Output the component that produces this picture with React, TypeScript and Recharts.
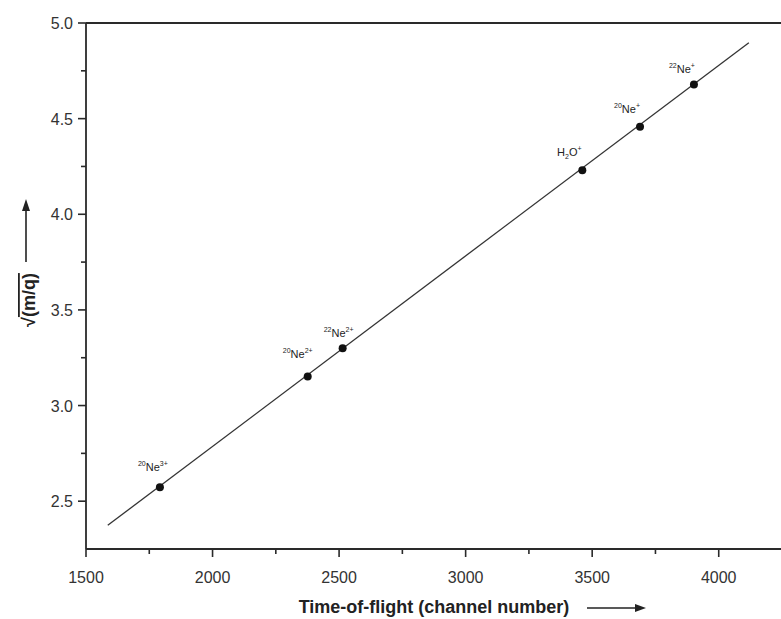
import { ScatterChart, Scatter, XAxis, YAxis } from 'recharts';

// calibration points: time-of-flight channel vs sqrt(m/q)
const tofChannel = [1792, 2376, 2514, 3461, 3689, 3902];
const sqrtMq = [2.573, 3.152, 3.3, 4.23, 4.458, 4.678];

type Part = [string, 'n' | 'sup' | 'sub'];
const ionLabels: Part[][] = [
  [['20', 'sup'], ['Ne', 'n'], ['3+', 'sup']],
  [['20', 'sup'], ['Ne', 'n'], ['2+', 'sup']],
  [['22', 'sup'], ['Ne', 'n'], ['2+', 'sup']],
  [['H', 'n'], ['2', 'sub'], ['O', 'n'], ['+', 'sup']],
  [['20', 'sup'], ['Ne', 'n'], ['+', 'sup']],
  [['22', 'sup'], ['Ne', 'n'], ['+', 'sup']],
];
// label nudges (px) relative to each point
const labelNudge = [[-7, -16], [-10, -18], [-4, -11], [-13, -14], [-13, -14], [-12, -12]];

// linear fit end points
const fitX = [1586, 4119];
const fitY = [2.374, 4.897];

const xTicks = [1500, 1750, 2000, 2250, 2500, 2750, 3000, 3250, 3500, 3750, 4000, 4250];
const xMajor = [1500, 2000, 2500, 3000, 3500, 4000];
const yTicks = [2.5, 2.75, 3.0, 3.25, 3.5, 3.75, 4.0, 4.25, 4.5, 4.75, 5.0];
const yMajor = [2.5, 3.0, 3.5, 4.0, 4.5, 5.0];

const points = tofChannel.map((x, i) => ({ x, y: sqrtMq[i], idx: i }));
const fitLine = fitX.map((x, i) => ({ x, y: fitY[i] }));

const INK = '#2a2a2a';
const FONT = '"Liberation Sans", Arial, sans-serif';

const isMajor = (list: number[], v: number) => list.some((m) => Math.abs(m - v) < 1e-6);

const BottomTick = ({ x, y, payload }: any) => {
  const major = isMajor(xMajor, payload.value);
  return (
    <g>
      <line x1={x} x2={x} y1={y} y2={y + (major ? 8 : 5)} stroke={INK} strokeWidth={1.6} />
      {major && (
        <text x={x} y={y + 34} textAnchor="middle" fontSize={16} fill="#333" fontFamily={FONT}>
          {payload.value}
        </text>
      )}
    </g>
  );
};

const TopTick = ({ x, y, payload }: any) => {
  const major = isMajor(xMajor, payload.value);
  return <line x1={x} x2={x} y1={y} y2={y + (major ? 9 : 5)} stroke={INK} strokeWidth={1.6} />;
};

const LeftTick = ({ x, y, payload }: any) => {
  const major = isMajor(yMajor, payload.value);
  return (
    <g>
      <line x1={x - (major ? 8 : 5)} x2={x} y1={y} y2={y} stroke={INK} strokeWidth={1.6} />
      {major && (
        <text x={x - 13} y={y + 6} textAnchor="end" fontSize={16} fill="#333" fontFamily={FONT}>
          {payload.value.toFixed(1)}
        </text>
      )}
    </g>
  );
};

const RightTick = ({ x, y, payload }: any) => {
  const major = isMajor(yMajor, payload.value);
  return <line x1={x - (major ? 7 : 4)} x2={x} y1={y} y2={y} stroke={INK} strokeWidth={1.6} />;
};

const IonLabel = ({ x, y, parts }: { x: number; y: number; parts: Part[] }) => {
  let shift = 0;
  return (
    <text x={x} y={y} textAnchor="middle" fontSize={11} fill="#222" fontFamily={FONT}>
      {parts.map(([t, kind], k) => {
        const target = kind === 'sup' ? -5 : kind === 'sub' ? 3 : 0;
        const dy = target - shift;
        shift = target;
        return (
          <tspan key={k} dy={dy} fontSize={kind === 'n' ? 11 : 7}>
            {t}
          </tspan>
        );
      })}
    </text>
  );
};

const PointShape = (props: any) => {
  const { cx, cy, payload } = props;
  const i = payload.idx;
  return (
    <g>
      <circle cx={cx} cy={cy} r={4} fill="#111" />
      <IonLabel x={cx + labelNudge[i][0]} y={cy + labelNudge[i][1]} parts={ionLabels[i]} />
    </g>
  );
};

const XLabel = ({ viewBox }: any) => {
  const cx = viewBox.x + viewBox.width / 2;
  const by = viewBox.y + 64;
  return (
    <g>
      <text x={cx} y={by} textAnchor="middle" fontSize={18} fontWeight="bold" fill="#222" fontFamily={FONT}>
        Time-of-flight (channel number)
      </text>
      <line x1={cx + 153} x2={cx + 204} y1={by - 5} y2={by - 5} stroke="#222" strokeWidth={1.6} />
      <polygon points={`${cx + 212},${by - 5} ${cx + 201},${by - 9} ${cx + 201},${by - 1}`} fill="#222" />
    </g>
  );
};

const YLabel = ({ viewBox }: any) => {
  const cy = viewBox.y + viewBox.height / 2 + 14;
  const bx = 35;
  return (
    <g>
      <text
        x={bx}
        y={cy}
        transform={`rotate(-90, ${bx}, ${cy})`}
        textAnchor="middle"
        fontSize={18}
        fontWeight="bold"
        fill="#222"
        fontFamily={FONT}
      >
        √<tspan style={{ textDecoration: 'overline' }}>(m/q)</tspan>
      </text>
      <line x1={26} x2={26} y1={cy - 38} y2={cy - 92} stroke="#222" strokeWidth={1.6} />
      <polygon points={`26,${cy - 101} 22,${cy - 89} 30,${cy - 89}`} fill="#222" />
    </g>
  );
};

export default function App() {
  return (
    <div
      style={{
        position: 'absolute',
        left: 0,
        top: 0,
        width: 781,
        height: 619,
        overflow: 'hidden',
        background: '#fff',
      }}
    >
      <ScatterChart width={800} height={619} margin={{ top: 0, right: 0, bottom: 0, left: 0 }}>
        <XAxis
          xAxisId="b"
          type="number"
          dataKey="x"
          domain={[1500, 4250]}
          ticks={xTicks}
          interval={0}
          height={70}
          tickSize={0}
          tickMargin={0}
          tickLine={false}
          tick={<BottomTick />}
          axisLine={{ stroke: INK, strokeWidth: 1.8 }}
          label={{ content: <XLabel /> }}
        />
        <XAxis
          xAxisId="t"
          orientation="top"
          type="number"
          dataKey="x"
          domain={[1500, 4250]}
          ticks={xTicks}
          interval={0}
          height={23}
          tickSize={0}
          tickMargin={0}
          tickLine={false}
          tick={<TopTick />}
          axisLine={{ stroke: INK, strokeWidth: 1.8 }}
        />
        <YAxis
          yAxisId="l"
          type="number"
          dataKey="y"
          domain={[2.25, 5.0]}
          ticks={yTicks}
          interval={0}
          width={86}
          tickSize={0}
          tickMargin={0}
          tickLine={false}
          tick={<LeftTick />}
          axisLine={{ stroke: INK, strokeWidth: 1.8 }}
          label={{ content: <YLabel /> }}
        />
        <YAxis
          yAxisId="r"
          orientation="right"
          type="number"
          dataKey="y"
          domain={[2.25, 5.0]}
          ticks={yTicks}
          interval={0}
          width={18}
          tickSize={0}
          tickMargin={0}
          tickLine={false}
          tick={<RightTick />}
          axisLine={false}
        />
        <Scatter
          xAxisId="b"
          yAxisId="l"
          data={fitLine}
          line={{ stroke: '#333', strokeWidth: 1.3 }}
          lineType="joint"
          shape={() => null}
          isAnimationActive={false}
        />
        <Scatter
          xAxisId="b"
          yAxisId="l"
          data={points}
          shape={<PointShape />}
          isAnimationActive={false}
        />
      </ScatterChart>
    </div>
  );
}
